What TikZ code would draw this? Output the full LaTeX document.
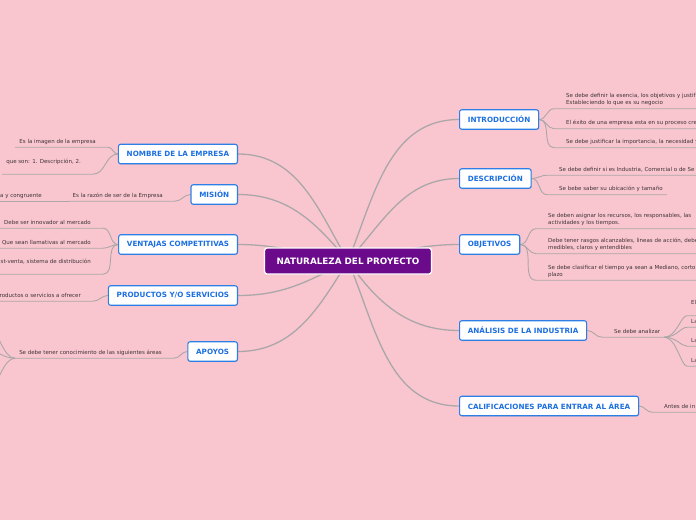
\documentclass[tikz,border=0pt]{standalone}
\usepackage{fontspec}
\setmainfont{DejaVu Sans}
\usetikzlibrary{shadows}
\definecolor{bgpink}{HTML}{F9C6D0}
\definecolor{linegray}{HTML}{ABA7A8}
\definecolor{topicblue}{HTML}{2D7FE6}
\definecolor{topictext}{HTML}{1C6FE0}
\definecolor{rootpurple}{HTML}{6C0A8C}
\definecolor{leaftext}{HTML}{3E3436}
\newcommand\twol[2]{\vbox{\baselineskip=6.8pt\hbox{#1}\hbox{#2}}}
\pgfdeclarelayer{bgl}
\pgfdeclarelayer{lines}
\pgfsetlayers{bgl,lines,main}
\tikzset{
  topic/.style={draw=topicblue, line width=1.1pt, fill=white, rounded corners=2.2pt,
    text=topictext, font=\fontsize{7.2}{8}\selectfont\bfseries, inner xsep=8.3pt, inner ysep=0pt,
    minimum height=19.5pt, drop shadow={shadow xshift=0.7pt, shadow yshift=-0.9pt, opacity=0.22}},
  rootnode/.style={draw=white, line width=1.3pt, fill=rootpurple, rounded corners=2.5pt,
    text=white, font=\fontsize{8.8}{10}\selectfont\bfseries, inner xsep=12pt, inner ysep=0pt,
    minimum height=26pt},
  leafL/.style={anchor=base east, inner xsep=4pt, inner ysep=4pt, text depth=0pt,
    font=\fontsize{5.5}{6.8}\selectfont, text=leaftext},
  leafR/.style={leafL, anchor=base west},
  mainline/.style={draw=linegray, line width=1.3pt},
  subline/.style={draw=linegray, line width=0.9pt},
}
\begin{document}
\begin{tikzpicture}[x=1pt,y=1pt]
\useasboundingbox (0,0) rectangle (696,-520);
\begin{pgfonlayer}{bgl}
  \fill[bgpink] (0,0) rectangle (696,-520);
\end{pgfonlayer}
\clip (0,0) rectangle (696,-520);

% root
\node[rootnode] (root) at (348,-261) {NATURALEZA DEL PROYECTO};

% left topics
\node[topic, anchor=east] (nombre) at (238,-154) {NOMBRE DE LA EMPRESA};
\node[topic, anchor=east] (mision) at (238,-194.5) {MISIÓN};
\node[topic, anchor=east] (ventajas) at (238,-244.5) {VENTAJAS COMPETITIVAS};
\node[topic, anchor=east] (productos) at (238,-295.5) {PRODUCTOS Y/O SERVICIOS};
\node[topic, anchor=east] (apoyos) at (238,-351.5) {APOYOS};

% right topics
\node[topic, anchor=west] (intro) at (459,-119.5) {INTRODUCCIÓN};
\node[topic, anchor=west] (desc) at (459,-178.5) {DESCRIPCIÓN};
\node[topic, anchor=west] (obj) at (459,-244.5) {OBJETIVOS};
\node[topic, anchor=west] (analisis) at (459,-330.5) {ANÁLISIS DE LA INDUSTRIA};
\node[topic, anchor=west] (calif) at (459,-406) {CALIFICACIONES PARA ENTRAR AL ÁREA};

% left leaves
\node[leafL] (n1) at (100,-143) {Es la imagen de la empresa};
\node[leafL] (n2) at (85,-170) {\twol{que son: 1. Descripción, 2.}{}};
\node[leafL] (n3) at (167,-197) {Es la razón de ser de la Empresa};
\node[leafL] (n3a) at (46,-197) {a y congruente};
\node[leafL] (v1) at (95,-224) {Debe ser innovador al mercado};
\node[leafL] (v2) at (95,-244) {? Que sean llamativas al mercado};
\node[leafL] (v3) at (95,-270) {\twol{st-venta, sistema de distribución}{}};
\node[leafL] (p1) at (85,-297) {roductos o servicios a ofrecer};
\node[leafL] (ap) at (166,-354) {Se debe tener conocimiento de las siguientes áreas};
\coordinate (apc1) at (-8,-330);
\coordinate (apc2) at (-8,-351);
\coordinate (apc3) at (-8,-386);

% right leaves
\node[leafR] (i1) at (562,-104.5) {\twol{Se debe definir la esencia, los objetivos y justif}{Estableciendo lo que es su negocio}};
\node[leafR] (i2) at (562,-124.5) {El éxito de una empresa esta en su proceso cre};
\node[leafR] (i3) at (562,-143.5) {Se debe justificar la importancia, la necesidad y};
\node[leafR] (d1) at (555,-171) {Se debe definir si es Industria, Comercial o de Se};
\node[leafR] (d2) at (555,-190.5) {Se bebe saber su ubicación y tamaño};
\node[leafR] (o1) at (544,-224.5) {\twol{Se deben asignar los recursos, los responsables, las}{actividades y los tiempos.}};
\node[leafR] (o2) at (544,-249.5) {\twol{Debe tener rasgos alcanzables, lineas de acción, debe}{medibles, claros y entendibles}};
\node[leafR] (o3) at (544,-276) {\twol{Se debe clasificar el tiempo ya sean a Mediano, corto}{plazo}};
\node[leafR] (a1) at (610,-333) {Se debe analizar};
\node[leafR] (ae1) at (687,-311.5) {\twol{El}{}};
\node[leafR] (ae2) at (687,-323) {La};
\node[leafR] (ae3) at (687,-342) {La};
\node[leafR] (ae4) at (687,-362) {La};
\node[leafR] (c1) at (660,-408) {Antes de in};

\begin{pgfonlayer}{lines}
  \clip (0,0) rectangle (696,-520);
  % root connectors
  \draw[mainline] (root.center) to[out=68,in=180] (intro.west);
  \draw[mainline] (root.center) to[out=48,in=180] (desc.west);
  \draw[mainline] (root.center) to[out=8,in=180] (obj.west);
  \draw[mainline] (root.center) to[out=-55,in=180] (analisis.west);
  \draw[mainline] (root.center) to[out=-67,in=180] (calif.west);
  \draw[mainline] (root.center) to[out=120,in=0] (nombre.east);
  \draw[mainline] (root.center) to[out=130,in=0] (mision.east);
  \draw[mainline] (root.center) to[out=172,in=0] (ventajas.east);
  \draw[mainline] (root.center) to[out=-153,in=0] (productos.east);
  \draw[mainline] (root.center) to[out=-122,in=0] (apoyos.east);

  % left leaves
  \draw[subline] (nombre.west) to[out=180,in=0] ([xshift=8pt]n1.south east) -- (n1.south west);
  \draw[subline] (nombre.west) to[out=180,in=0] ([xshift=8pt]n2.south east) -- (n2.south west);
  \draw[subline] (mision.west) to[out=180,in=0] ([xshift=8pt]n3.south east) -- (n3.south west);
  \draw[subline] (n3.south west) -- (n3a.south east) -- (n3a.south west);
  \draw[subline] (ventajas.west) to[out=180,in=0] ([xshift=8pt]v1.south east) -- (v1.south west);
  \draw[subline] (ventajas.west) to[out=180,in=0] ([xshift=8pt]v2.south east) -- (v2.south west);
  \draw[subline] (ventajas.west) to[out=180,in=0] ([xshift=8pt]v3.south east) -- (v3.south west);
  \draw[subline] (productos.west) to[out=180,in=0] ([xshift=8pt]p1.south east) -- (p1.south west);
  \draw[subline] (apoyos.west) to[out=180,in=0] ([xshift=8pt]ap.south east) -- (ap.south west);
  \draw[subline] (ap.south west) .. controls +(-12,0) and +(6,0) .. (apc1);
  \draw[subline] (ap.south west) .. controls +(-12,0) and +(6,0) .. (apc2);
  \draw[subline] (ap.south west) .. controls +(-12,0) and +(6,0) .. (apc3);

  % right leaves
  \draw[subline] (intro.east) to[out=0,in=180] ([xshift=-8pt]i1.south west) -- (i1.south east);
  \draw[subline] (intro.east) to[out=0,in=180] ([xshift=-8pt]i2.south west) -- (i2.south east);
  \draw[subline] (intro.east) to[out=0,in=180] ([xshift=-8pt]i3.south west) -- (i3.south east);
  \draw[subline] (desc.east) to[out=0,in=180] ([xshift=-8pt]d1.south west) -- (d1.south east);
  \draw[subline] (desc.east) to[out=0,in=180] ([xshift=-8pt]d2.south west) -- (d2.south east);
  \draw[subline] (obj.east) to[out=0,in=180] ([xshift=-8pt]o1.south west) -- (o1.south east);
  \draw[subline] (obj.east) to[out=0,in=180] ([xshift=-8pt]o2.south west) -- (o2.south east);
  \draw[subline] (obj.east) to[out=0,in=180] ([xshift=-8pt]o3.south west) -- (o3.south east);
  \draw[subline] (analisis.east) to[out=0,in=180] ([xshift=-8pt]a1.south west) -- (a1.south east);
  \draw[subline] (a1.south east) .. controls +(12,0) and +(-6,0) .. (ae1.south west) -- (ae1.south east);
  \draw[subline] (a1.south east) .. controls +(12,0) and +(-6,0) .. (ae2.south west) -- (ae2.south east);
  \draw[subline] (a1.south east) .. controls +(12,0) and +(-6,0) .. (ae3.south west) -- (ae3.south east);
  \draw[subline] (a1.south east) .. controls +(12,0) and +(-6,0) .. (ae4.south west) -- (ae4.south east);
  \draw[subline] (calif.east) to[out=0,in=180] ([xshift=-8pt]c1.south west) -- (c1.south east);
\end{pgfonlayer}
\end{tikzpicture}
\end{document}
